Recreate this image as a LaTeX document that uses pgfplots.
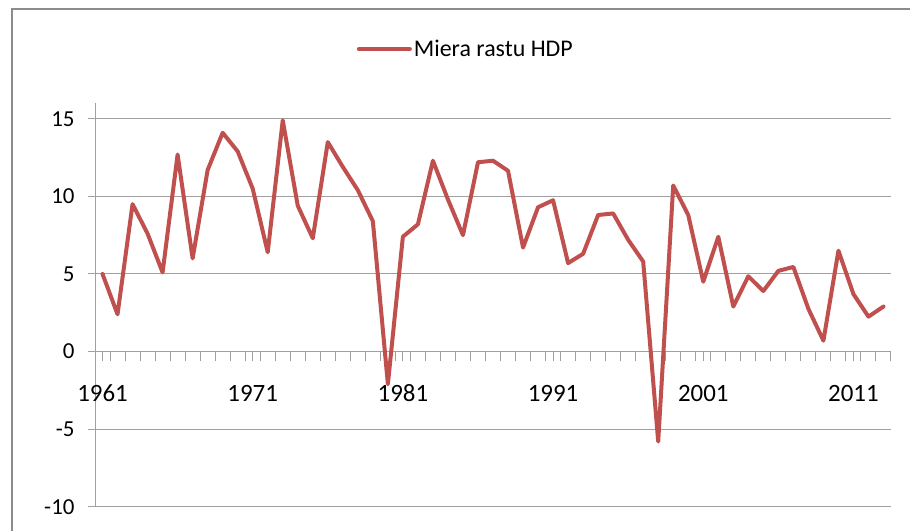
\documentclass[border=0pt]{standalone}
\usepackage{pgfplots}
\pgfplotsset{compat=1.18}
\usepackage{fontspec}
\setmainfont{Carlito}
\definecolor{exred}{RGB}{192,80,77}
\definecolor{gridgray}{RGB}{160,160,160}
\definecolor{framegray}{RGB}{140,140,140}
\begin{document}
\begin{tikzpicture}[x=1bp,y=1bp]
\useasboundingbox (0,0) rectangle (910,531);
\draw[framegray, line width=2.5bp] (12,-10) -- (12,522) -- (930,522);
\begin{axis}[
  at={(95bp,24.3bp)}, anchor=south west,
  scale only axis, width=796bp, height=403.4bp,
  xmin=1960.5, xmax=2013.5, ymin=-10, ymax=16,
  axis x line=middle, axis y line=left,
  axis line style={gridgray, line width=1bp, -},
  hide obscured x ticks=false, hide obscured y ticks=false,
  xtick={1960.5,1961.5,...,2013.5}, xticklabels={},
  extra x ticks={1961,1971,1981,1991,2001,2011},
  extra x tick labels={1961,1971,1981,1991,2001,2011},
  extra x tick style={major tick length=0pt, tick label style={anchor=center, yshift=-42bp}},
  xtick style={/pgfplots/major tick length=9bp},
  x tick label style={font=\fontsize{25}{28}\selectfont},
  ytick={-10,-5,0,5,10,15},
  yticklabels={-10,-5,0,5,10,15},
  y tick label style={font=\fontsize{23}{26}\selectfont, anchor=east, xshift=-10bp},
  ymajorgrids, grid style={gridgray, line width=1bp},
  major tick style={gridgray, line width=1bp},
  tick align=outside, major tick length=7bp,
  legend style={draw=none, fill=none, at={(0.329,1.1346)}, anchor=west, inner sep=0pt, outer sep=0pt, font=\fontsize{24}{27}\selectfont},
  legend image code/.code={\draw[#1] (0bp,0bp) -- (51bp,0bp);},
  legend cell align=left,
]
\addplot[exred, line width=4bp, line join=round, line cap=round] coordinates {
(1961,5.0) (1962,2.4) (1963,9.5) (1964,7.6) (1965,5.1) (1966,12.7) (1967,6.0) (1968,11.7) (1969,14.1) (1970,12.9)
(1971,10.5) (1972,6.4) (1973,14.9) (1974,9.4) (1975,7.3) (1976,13.5) (1977,11.9) (1978,10.4) (1979,8.4) (1980,-2.1)
(1981,7.4) (1982,8.2) (1983,12.3) (1984,9.8) (1985,7.5) (1986,12.2) (1987,12.3) (1988,11.65) (1989,6.7) (1990,9.3)
(1991,9.75) (1992,5.7) (1993,6.3) (1994,8.8) (1995,8.9) (1996,7.2) (1997,5.8) (1998,-5.8) (1999,10.7) (2000,8.8)
(2001,4.5) (2002,7.4) (2003,2.9) (2004,4.85) (2005,3.9) (2006,5.2) (2007,5.45) (2008,2.75) (2009,0.7) (2010,6.5)
(2011,3.7) (2012,2.25) (2013,2.9)
};
\addlegendentry{Miera rastu HDP}
\end{axis}
\end{tikzpicture}
\end{document}
